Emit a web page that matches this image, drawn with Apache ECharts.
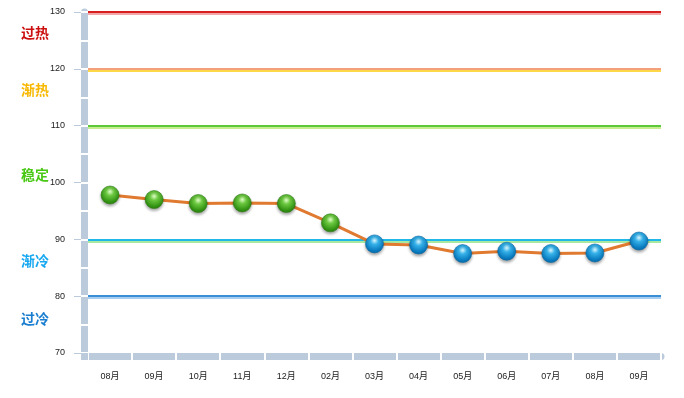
<!DOCTYPE html>
<html><head><meta charset="utf-8">
<script src="https://cdn.jsdelivr.net/npm/echarts@6/dist/echarts.min.js"></script>
<style>html,body{margin:0;padding:0;background:#fff}#c{width:684px;height:398px}</style>
</head><body><div id="c"></div>
<script>
var months = ['08月','09月','10月','11月','12月','02月','03月','04月','05月','06月','07月','08月','09月'];
var values = [97.8, 97.0, 96.3, 96.4, 96.3, 92.9, 89.2, 89.0, 87.5, 87.9, 87.5, 87.6, 89.7];
var thresholdValues = [130, 120, 110, 90, 80];
var thresholdColors = ['#d81e1e', '#f4a07a', '#5cc83c', '#20b8e8', '#3a8ed4'];
var thresholdShadow = ['#f2a8a8', '#ffd84a', '#c8ec90', '#a8e8a0', '#a8cdf0'];
var zoneNames = ['过热', '渐热', '稳定', '渐冷', '过冷'];
var zoneAnchors = [126.3, 116.3, 101.3, 86.2, 76.1];
var zoneColors = ['#cc1010', '#f8b800', '#48c814', '#18a8f0', '#1a7ed0'];
var yTicks = {min: 70, max: 130, interval: 10, minorInterval: 5};
var splitValue = 90;

var band = '#bccbdb';
function sphere(v) {
  var green = v > splitValue;
  return {
    type: 'radial', x: 0.5, y: 0.32, r: 0.72,
    colorStops: green ? [
      {offset: 0, color: '#e0ffc8'}, {offset: 0.3, color: '#6cc840'},
      {offset: 0.75, color: '#349414'}, {offset: 1, color: '#2a7c10'}
    ] : [
      {offset: 0, color: '#d8f6ff'}, {offset: 0.3, color: '#34b0e8'},
      {offset: 0.75, color: '#0a7cc0'}, {offset: 1, color: '#0868a4'}
    ]
  };
}
var data = values.map(function (v) {
  return {value: v, itemStyle: {color: sphere(v), borderColor: v > splitValue ? '#2a7c10' : '#0868a4', borderWidth: 0.6,
    shadowBlur: 3, shadowColor: 'rgba(0,0,0,0.35)', shadowOffsetY: 2}};
});
var markData = thresholdValues.map(function (t, i) {
  return {yAxis: t, lineStyle: {color: thresholdColors[i], width: 2, type: 'solid',
    shadowColor: thresholdShadow[i], shadowOffsetY: 2, shadowBlur: 0}};
});

var chart = echarts.init(document.getElementById('c'), null, {renderer: 'canvas'});
var option = {
  animation: false,
  grid: {left: 88, right: 23, top: 12, bottom: 45},
  xAxis: [
    {type: 'category', data: months, position: 'bottom', offset: 7, boundaryGap: true, z: 4,
     axisLine: {show: false},
     axisTick: {show: true, inside: true, length: 7, lineStyle: {color: '#fff', width: 2}},
     axisLabel: {margin: 12, fontSize: 9, color: '#222', fontFamily: 'Liberation Sans, Noto Sans CJK SC'},
     splitLine: {show: false}},
    {type: 'category', data: months, position: 'bottom', offset: 3.5, z: 2,
     axisLine: {show: true, lineStyle: {color: band, width: 7}},
     axisTick: {show: false}, axisLabel: {show: false}, splitLine: {show: false}}
  ],
  yAxis: [
    {type: 'value', min: yTicks.min, max: yTicks.max, interval: yTicks.interval, position: 'left', offset: 7, z: 4,
     axisLine: {show: false},
     axisTick: {show: true, length: 7, lineStyle: {color: band, width: 1}},
     axisLabel: {margin: 16, fontSize: 9, color: '#222', fontFamily: 'Liberation Sans'},
     splitLine: {show: false}},
    {type: 'value', min: yTicks.min, max: yTicks.max, interval: yTicks.interval, position: 'left', offset: 3.5, z: 2,
     axisLine: {show: true, lineStyle: {color: band, width: 7}},
     axisTick: {show: false}, axisLabel: {show: false}, splitLine: {show: false}},
    {type: 'value', min: yTicks.min, max: yTicks.max, interval: yTicks.minorInterval, position: 'left', offset: 7, z: 5,
     axisLine: {show: false},
     axisTick: {show: true, inside: true, length: 7, lineStyle: {color: '#fff', width: 2}},
     axisLabel: {show: false}, splitLine: {show: false}}
  ],
  series: [{
    type: 'line', data: data, xAxisIndex: 0, yAxisIndex: 0,
    symbol: 'circle', symbolSize: 18, z: 5,
    lineStyle: {color: '#e07a30', width: 3},
    markLine: {silent: true, symbol: 'none', label: {show: false}, data: markData, z: 1}
  }]
};
chart.setOption(option);

var g = [];
var yBottom = chart.convertToPixel({yAxisIndex: 0}, yTicks.min);
var leftEdge = chart.convertToPixel({xAxisIndex: 0}, 0) - 22 - 7;
g.push({type: 'rect', shape: {x: leftEdge, y: yBottom, width: 7, height: 7}, style: {fill: band}, z: 10});
zoneNames.forEach(function (n, i) {
  var py = chart.convertToPixel({yAxisIndex: 0}, zoneAnchors[i]);
  g.push({type: 'text', x: 35, y: py, style: {text: n, fill: zoneColors[i], font: 'bold 14px "Noto Sans CJK SC"', align: 'center', verticalAlign: 'middle'}, z: 10});
});
chart.setOption({graphic: g});
</script></body></html>
